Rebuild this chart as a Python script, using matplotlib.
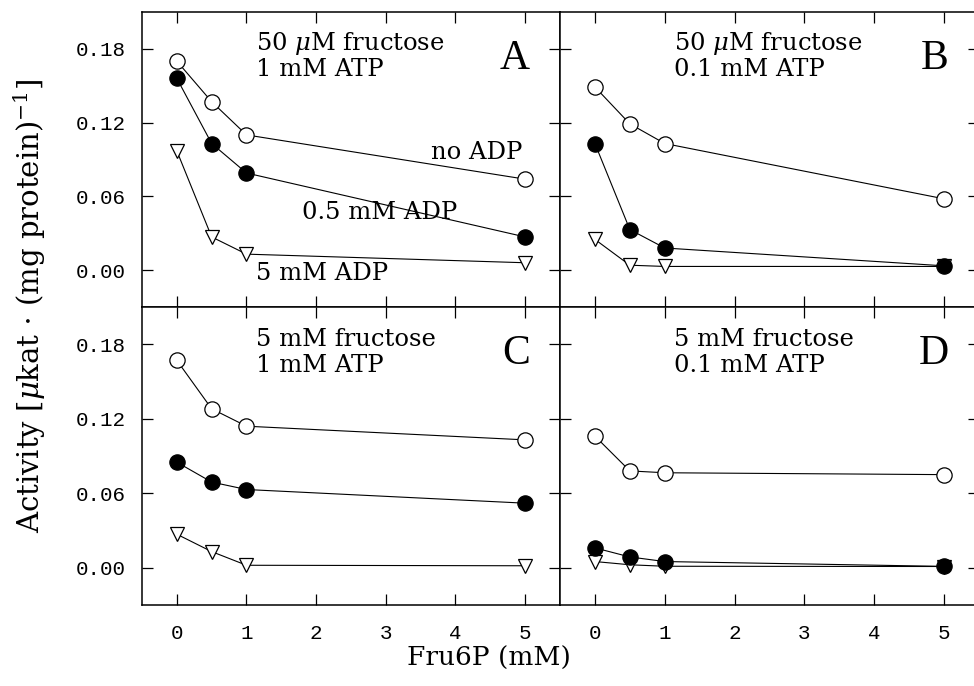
import matplotlib
matplotlib.use("Agg")
import matplotlib.pyplot as plt

plt.rcParams['mathtext.fontset'] = 'dejavuserif'

fru6p = [0, 0.5, 1, 5]

# Panel A: 50 uM fructose, 1 mM ATP
A_noADP = [0.170, 0.137, 0.110, 0.074]
A_05ADP = [0.156, 0.103, 0.079, 0.027]
A_5ADP = [0.097, 0.027, 0.013, 0.006]
# Panel B: 50 uM fructose, 0.1 mM ATP
B_noADP = [0.149, 0.119, 0.103, 0.058]
B_05ADP = [0.103, 0.033, 0.018, 0.0035]
B_5ADP = [0.025, 0.004, 0.003, 0.003]
# Panel C: 5 mM fructose, 1 mM ATP
C_noADP = [0.167, 0.128, 0.114, 0.103]
C_05ADP = [0.085, 0.069, 0.063, 0.052]
C_5ADP = [0.027, 0.013, 0.002, 0.0016]
# Panel D: 5 mM fructose, 0.1 mM ATP
D_noADP = [0.106, 0.078, 0.0765, 0.075]
D_05ADP = [0.016, 0.0087, 0.005, 0.0011]
D_5ADP = [0.005, 0.0024, 0.0012, 0.001]

panel_letters = ["A", "B", "C", "D"]
panel_titles = [("50 $\\mu$M fructose", "1 mM ATP"),
                ("50 $\\mu$M fructose", "0.1 mM ATP"),
                ("5 mM fructose", "1 mM ATP"),
                ("5 mM fructose", "0.1 mM ATP")]
series = [(A_noADP, A_05ADP, A_5ADP), (B_noADP, B_05ADP, B_5ADP),
          (C_noADP, C_05ADP, C_5ADP), (D_noADP, D_05ADP, D_5ADP)]

xticks = [0, 1, 2, 3, 4, 5]
yticks = [0.00, 0.06, 0.12, 0.18]
ytick_labels = ["0.00", "0.06", "0.12", "0.18"]

fig = plt.figure(figsize=(9.74, 6.86), dpi=100)
W, H = 974, 686
def rect(l, t, r, b):
    return [l / W, 1 - b / H, (r - l) / W, (b - t) / H]

rects = [rect(142, 12, 560, 307), rect(560, 12, 979, 307),
         rect(142, 307, 560, 605), rect(560, 307, 979, 605)]

serif = "DejaVu Serif"
mono = "Liberation Mono"
afs = 17.5

for i, (r, (s1, s2, s3)) in enumerate(zip(rects, series)):
    ax = fig.add_axes(r)
    ax.plot(fru6p, s1, '-', color='black', lw=0.8, marker='o', ms=11,
            mfc='white', mec='black', mew=0.9, zorder=3)
    ax.plot(fru6p, s2, '-', color='black', lw=0.8, marker='o', ms=11,
            mfc='black', mec='black', mew=0.9, zorder=4)
    ax.plot(fru6p, s3, '-', color='black', lw=0.8, marker='v', ms=10,
            mfc='white', mec='black', mew=0.9, zorder=2)
    ax.set_xlim(-0.5, 5.5)
    ax.set_ylim(-0.03, 0.21)
    ax.set_xticks(xticks)
    ax.set_yticks(yticks)
    ax.tick_params(direction='in', length=8, width=0.9, top=True, right=True,
                   bottom=True, left=True)
    ax.tick_params(axis='x', pad=14)
    ax.tick_params(axis='y', pad=12)
    for sp in ax.spines.values():
        sp.set_linewidth(1.1)
    if i in (0, 2):
        ax.set_yticklabels(ytick_labels, fontfamily=mono, fontsize=15)
    else:
        ax.set_yticklabels([])
    if i in (2, 3):
        ax.set_xticklabels([str(t) for t in xticks], fontfamily=mono, fontsize=15)
    else:
        ax.set_xticklabels([])
    t1, t2 = panel_titles[i]
    ax.text(1.13, 0.184, t1, fontfamily=serif, fontsize=afs, va='center', ha='left')
    ax.text(1.13, 0.163, t2, fontfamily=serif, fontsize=afs, va='center', ha='left')
    ax.text(5.07, 0.172, panel_letters[i], fontfamily="Liberation Serif",
            fontsize=30, va='center', ha='right')
    if i == 0:
        ax.text(3.65, 0.096, "no ADP", fontfamily=serif, fontsize=afs, va='center')
        ax.text(1.8, 0.047, "0.5 mM ADP", fontfamily=serif, fontsize=afs, va='center')
        ax.text(1.13, -0.003, "5 mM ADP", fontfamily=serif, fontsize=afs, va='center')

fig.text(30 / W, 1 - 306 / H, "Activity [$\\mu$kat $\\cdot$ (mg protein)$^{-1}$]",
         rotation=90, fontfamily=serif, fontsize=21, va='center', ha='center')
fig.text(489 / W, 1 - 658 / H, "Fru6P (mM)", fontfamily=serif, fontsize=19,
         va='center', ha='center')

fig.savefig("out.png", dpi=100)
